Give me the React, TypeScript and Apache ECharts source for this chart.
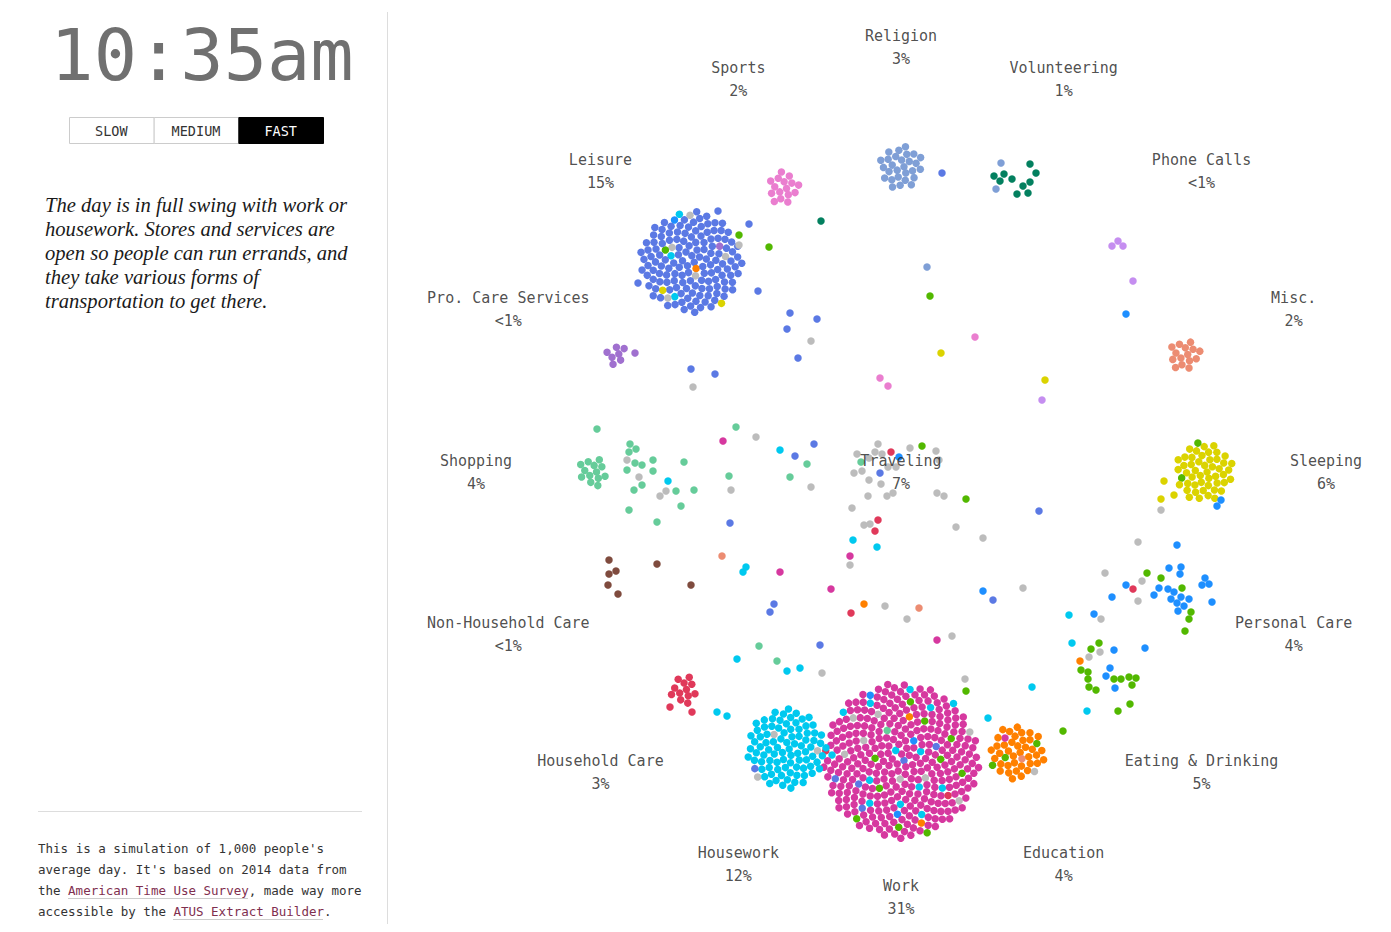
import React, { useEffect, useRef } from "react";
import * as echarts from "echarts";

// ---------- DATA ----------
const activities = [
  "Religion", "Volunteering", "Phone Calls", "Misc.", "Sleeping", "Personal Care",
  "Eating & Drinking", "Education", "Work", "Housework", "Household Care",
  "Non-Household Care", "Shopping", "Pro. Care Services", "Leisure", "Sports",
];
const shares = ["3%", "1%", "<1%", "2%", "6%", "4%", "5%", "4%", "31%", "12%", "3%", "<1%", "4%", "<1%", "15%", "2%"];
const centerActivity = "Traveling";
const centerShare = "7%";

// index 16 = Traveling
const activityColors = [
  "#7f9fd6", "#03805f", "#c58ef0", "#ec8c72", "#dbd300", "#1e8fff",
  "#52b800", "#ff8000", "#d6389f", "#00c9ef", "#e0395a",
  "#7f4b3e", "#66cc9a", "#a070cf", "#5b79e4", "#ea7ecf", "#bcbcbc",
];

// dots resting together at each activity (packed groups)
const restingCounts = [28, 0, 0, 15, 48, 0, 0, 38, 300, 88, 12, 0, 13, 7, 135, 16];

// [host activity, arriving activity, count] — dots already recoloured inside a group
const arrivals: [number, number, number][] = [
  [8, 9, 14], [8, 6, 10], [8, 16, 8], [8, 14, 5], [8, 5, 3], [8, 7, 2], [8, 10, 2], [8, 12, 1],
  [9, 16, 3], [9, 14, 1],
  [14, 4, 2], [14, 16, 5], [14, 6, 1], [14, 9, 3], [14, 5, 1], [14, 13, 1], [14, 7, 1],
  [4, 6, 2],
  [7, 6, 3], [7, 16, 1], [7, 8, 1], [7, 3, 1],
];

// moving / loose dots: [x, y, activity]
const movingDots: [number, number, number][] = [
  [942, 173, 14], [1001, 163, 0], [996, 189, 0], [1030, 164, 1], [994, 176, 1], [1004, 174, 1],
  [1012, 179, 1], [1000, 181, 1], [1036, 173, 1], [1030, 182, 1], [1023, 186, 1], [1017, 194, 1], [1028, 193, 1],
  [1112, 246, 2], [1118, 241, 2], [1123, 246, 2], [1133, 281, 2],
  [927, 267, 0], [930, 296, 6], [975, 337, 15], [941, 353, 4], [880, 378, 15], [888, 386, 15],
  [1045, 380, 4], [1042, 400, 2], [1126, 314, 5], [821, 221, 1],
  [718, 211, 14], [749, 224, 14], [739, 235, 6], [739, 245, 16], [769, 247, 6], [758, 291, 14],
  [790, 313, 14], [817, 319, 14], [787, 329, 14], [811, 341, 16], [798, 358, 14], [691, 369, 14],
  [715, 374, 14], [693, 387, 16], [638, 283, 14], [635, 353, 13],
  [597, 429, 12], [736, 427, 12], [723, 441, 8], [630, 444, 12], [636, 449, 12], [629, 452, 12],
  [627, 460, 16], [635, 463, 12], [642, 465, 12], [653, 460, 12], [627, 470, 12], [653, 471, 12],
  [684, 462, 12], [639, 477, 16], [642, 485, 12], [634, 490, 12], [668, 481, 9], [666, 491, 16],
  [660, 496, 16], [676, 491, 12], [694, 490, 12], [681, 506, 12], [629, 510, 12], [657, 522, 12],
  [729, 476, 12], [731, 490, 16], [730, 523, 14], [722, 556, 3],
  [609, 560, 11], [616, 571, 11], [609, 574, 11], [608, 585, 11], [618, 594, 11], [657, 564, 11], [691, 585, 11],
  [756, 437, 16], [780, 450, 9], [795, 456, 14], [814, 444, 14], [807, 464, 12], [790, 477, 12],
  [811, 487, 16], [746, 567, 9], [743, 572, 9], [780, 572, 8],
  [878, 444, 16], [857, 454, 16], [875, 452, 16], [882, 454, 16], [891, 452, 10], [899, 457, 5],
  [910, 448, 16], [922, 446, 6], [936, 451, 16], [861, 462, 12], [869, 458, 16], [939, 460, 16],
  [888, 467, 16], [896, 467, 16], [854, 473, 16], [862, 471, 16], [880, 473, 14], [869, 480, 16],
  [881, 484, 16], [893, 493, 16], [887, 496, 16], [868, 496, 16], [937, 493, 16], [944, 496, 16],
  [966, 499, 6], [852, 508, 16], [864, 525, 16], [870, 524, 16], [878, 520, 10], [875, 531, 10],
  [956, 527, 16], [983, 538, 16], [853, 540, 9], [877, 547, 9], [850, 556, 8], [850, 565, 16],
  [1039, 511, 14], [983, 591, 5], [993, 600, 14], [1023, 588, 16], [831, 589, 8], [864, 604, 7],
  [885, 606, 16], [851, 613, 10], [919, 608, 3], [907, 619, 16], [774, 604, 14], [770, 612, 14],
  [820, 645, 14], [759, 646, 12], [737, 659, 9], [777, 661, 12], [787, 671, 9], [800, 668, 9],
  [822, 673, 16], [937, 640, 8], [952, 636, 16], [965, 679, 16], [966, 691, 6], [1032, 687, 9],
  [1138, 542, 16], [1177, 545, 5], [1169, 568, 5], [1181, 567, 5], [1180, 574, 5], [1147, 573, 6],
  [1161, 578, 6], [1105, 573, 16], [1142, 581, 16], [1126, 585, 5], [1133, 589, 10], [1138, 601, 16],
  [1112, 597, 5], [1154, 595, 5], [1159, 588, 5], [1168, 589, 5], [1174, 592, 5], [1182, 588, 6],
  [1171, 599, 5], [1181, 597, 5], [1177, 603, 5], [1189, 599, 5], [1184, 606, 5], [1178, 611, 5],
  [1191, 612, 6], [1189, 619, 6], [1185, 631, 6], [1205, 578, 5], [1202, 585, 5], [1209, 584, 5],
  [1212, 602, 5], [1069, 615, 9], [1094, 614, 5], [1101, 619, 16], [1072, 643, 9], [1099, 643, 6],
  [1091, 649, 6], [1100, 652, 16], [1089, 657, 16], [1114, 650, 5], [1145, 648, 5], [1080, 661, 7],
  [1110, 668, 5], [1081, 670, 6], [1088, 672, 6], [1088, 679, 6], [1106, 676, 5], [1114, 679, 6],
  [1121, 679, 6], [1129, 677, 6], [1136, 678, 6], [1132, 685, 6], [1089, 687, 6], [1096, 690, 6],
  [1115, 688, 5], [1130, 704, 6], [1118, 711, 6], [1087, 711, 9],
  [1164, 481, 4], [1161, 499, 4], [1174, 495, 4], [1161, 510, 16], [1221, 500, 5], [1217, 506, 5],
  [670, 707, 10], [692, 712, 10], [717, 712, 9], [727, 716, 9], [988, 718, 9], [1063, 731, 6],
];

const clockText = "10:35am";
const speeds = ["SLOW", "MEDIUM", "FAST"];
const activeSpeed = 2;
const storyLines = [
  "The day is in full swing with work or",
  "housework. Stores and services are",
  "open so people can run errands, and",
  "they take various forms of",
  "transportation to get there.",
];
const noteLines = [
  "This is a simulation of 1,000 people's",
  "average day. It's based on 2014 data from",
  "the {l|American Time Use Survey}, made way more",
  "accessible by the {l|ATUS Extract Builder}.",
];

// ---------- LAYOUT CONSTANTS ----------
const W = 1391;
const H = 932;
const RING_CX = 901;
const RING_CY = 472;
const LABEL_R = 425;
const FOCUS_R = 312;
const SPACING = 8;
const MONO = '"DejaVu Sans Mono", monospace';

export default function App() {
  const ref = useRef<HTMLDivElement>(null);

  useEffect(() => {
    const chart = echarts.init(ref.current!, null, { renderer: "svg" });
    const golden = Math.PI * (3 - Math.sqrt(5));
    const c = SPACING * Math.sqrt(Math.sqrt(3) / 2 / Math.PI);

    const dots: any[] = [];
    activities.forEach((_, i) => {
      const own = restingCounts[i];
      const vis = arrivals.filter((v) => v[0] === i);
      const n = own + vis.reduce((s, v) => s + v[2], 0);
      if (n === 0) return;
      const ang = (i * 22.5 * Math.PI) / 180;
      const ux = Math.sin(ang);
      const uy = -Math.cos(ang);
      const R = c * Math.sqrt(n);
      const rr = FOCUS_R - 0.3 * R;
      const cx = RING_CX + ux * rr;
      const cy = RING_CY + uy * rr;
      const cols: number[] = new Array(n).fill(i);
      let k = 0;
      vis.forEach(([, who, cnt]) => {
        for (let j = 0; j < cnt; j++) {
          k++;
          let idx = Math.floor((((k * 0.618034 + 0.37) % 1) * n));
          while (cols[idx] !== i) idx = (idx + 1) % n;
          cols[idx] = who;
        }
      });
      for (let j = 0; j < n; j++) {
        const r = c * Math.sqrt(j + 0.5);
        const th = j * golden;
        dots.push({
          value: [cx + r * Math.cos(th), cy + r * Math.sin(th)],
          itemStyle: { color: activityColors[cols[j]], opacity: 1 },
        });
      }
    });
    movingDots.forEach(([x, y, a]) => {
      dots.push({ value: [x, y], itemStyle: { color: activityColors[a], opacity: 1 } });
    });

    const labels: any[] = activities.map((name, i) => {
      const ang = (i * 22.5 * Math.PI) / 180;
      return {
        name,
        share: shares[i],
        value: [RING_CX + LABEL_R * Math.sin(ang), RING_CY - LABEL_R * Math.cos(ang)],
      };
    });
    labels.push({ name: centerActivity, share: centerShare, value: [RING_CX, RING_CY] });

    const graphics: any[] = [];
    graphics.push({
      type: "text",
      x: 202,
      y: 55,
      style: {
        text: clockText,
        fontFamily: MONO,
        fontSize: 72,
        fill: "#707070",
        align: "center",
        verticalAlign: "middle",
      },
    });
    const bx = 69, bw = 84.67, by = 117, bh = 26;
    speeds.forEach((s, i) => {
      graphics.push({
        type: "rect",
        shape: { x: bx + i * bw + 0.5, y: by + 0.5, width: bw, height: bh },
        style: { fill: i === activeSpeed ? "#000" : "#fff", stroke: i === activeSpeed ? "#000" : "#ccc", lineWidth: 1 },
      });
      graphics.push({
        type: "text",
        x: bx + i * bw + bw / 2,
        y: by + bh / 2 + 1,
        style: {
          text: s,
          fontFamily: MONO,
          fontSize: 13.5,
          fill: i === activeSpeed ? "#fff" : "#333",
          align: "center",
          verticalAlign: "middle",
        },
      });
    });
    storyLines.forEach((line, i) => {
      graphics.push({
        type: "text",
        x: 45,
        y: 205 + i * 24,
        style: {
          text: line,
          fontFamily: '"Liberation Serif", serif',
          fontStyle: "italic",
          fontSize: 20.6,
          fill: "#1a1a1a",
          align: "left",
          verticalAlign: "middle",
        },
      });
    });
    graphics.push({
      type: "line",
      shape: { x1: 38, y1: 811.5, x2: 362, y2: 811.5 },
      style: { stroke: "#ddd", lineWidth: 1 },
    });
    graphics.push({
      type: "line",
      shape: { x1: 387.5, y1: 12, x2: 387.5, y2: 924 },
      style: { stroke: "#ddd", lineWidth: 1 },
    });
    noteLines.forEach((line, i) => {
      graphics.push({
        type: "text",
        x: 38,
        y: 848 + i * 21,
        style: {
          text: line,
          fontFamily: MONO,
          fontSize: 12.5,
          fill: "#333",
          align: "left",
          verticalAlign: "middle",
          rich: { l: { fill: "#7f2f4f", fontFamily: MONO, fontSize: 12.5 } },
        },
      });
    });
    graphics.push({ type: "line", shape: { x1: 68, y1: 898.5, x2: 248, y2: 898.5 }, style: { stroke: "#ccc", lineWidth: 1 } });
    graphics.push({ type: "line", shape: { x1: 173, y1: 919.5, x2: 323, y2: 919.5 }, style: { stroke: "#ccc", lineWidth: 1 } });

    chart.setOption({
      animation: false,
      backgroundColor: "#fff",
      grid: { left: 0, right: 0, top: 0, bottom: 0 },
      xAxis: { type: "value", min: 0, max: W, show: false },
      yAxis: { type: "value", min: 0, max: H, inverse: true, show: false },
      series: [
        {
          type: "scatter",
          name: "people",
          data: dots,
          symbol: "circle",
          symbolSize: 7.5,
          itemStyle: { opacity: 1 },
          z: 2,
          silent: true,
        },
        {
          type: "scatter",
          name: "activities",
          data: labels,
          symbolSize: 1,
          itemStyle: { color: "rgba(0,0,0,0)" },
          z: 3,
          silent: true,
          label: {
            show: true,
            position: "inside",
            formatter: (p: any) => `${p.data.name}\n${p.data.share}`,
            fontFamily: MONO,
            fontSize: 15,
            lineHeight: 23,
            color: "#222",
            align: "center",
            verticalAlign: "middle",
          },
        },
      ],
      graphic: graphics,
    });

    return () => chart.dispose();
  }, []);

  return (
    <div style={{ position: "absolute", left: 0, top: 0, width: W, height: H, background: "#fff" }}>
      <div ref={ref} style={{ width: W, height: H }} />
    </div>
  );
}
